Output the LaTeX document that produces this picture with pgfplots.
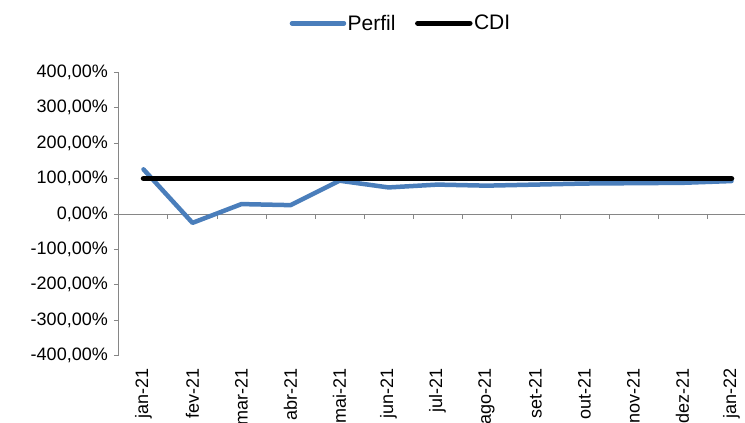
\documentclass[border=0pt]{standalone}
\usepackage{fontspec}
\setmainfont{Liberation Sans}
\usepackage{pgfplots}
\pgfplotsset{compat=1.18}
\definecolor{perfil}{HTML}{4A7EBB}
\definecolor{axisgray}{HTML}{868686}
\begin{document}
\begin{tikzpicture}[font=\fontsize{18bp}{21bp}\selectfont]
\begin{axis}[
  at={(0,0)}, anchor=south west,
  scale only axis, width=637bp, height=283.4bp,
  xmin=-0.5, xmax=12.5, ymin=-400, ymax=400,
  axis x line=bottom, axis y line=left,
  axis line style={-, axisgray, line width=1bp},
  x axis line style={draw=none},
  xtick={0,...,12},
  xticklabels={jan-21,fev-21,mar-21,abr-21,mai-21,jun-21,jul-21,ago-21,set-21,out-21,nov-21,dez-21,jan-22},
  xtick style={draw=none},
  xticklabel style={rotate=90, anchor=east, inner xsep=8bp, inner ysep=0bp},
  ytick={-400,-300,...,400},
  yticklabels={{-400,00\%},{-300,00\%},{-200,00\%},{-100,00\%},{0,00\%},{100,00\%},{200,00\%},{300,00\%},{400,00\%}},
  ytick style={axisgray, line width=1bp},
  yticklabel style={inner xsep=0bp, xshift=-6bp},
  tick align=outside, major tick length=5bp,
  clip=false,
  legend columns=2,
  legend style={draw=none, fill=none, at={(0.2677,1.173)}, anchor=west,
    inner sep=0pt, font=\fontsize{21bp}{24bp}\selectfont,
    nodes={inner sep=1.5bp},
    /tikz/every even column/.append style={column sep=18bp}},
  legend image code/.code={\draw[#1, line cap=round] (0bp,0bp) -- (52bp,0bp);},
]
\draw[axisgray, line width=1bp] (axis cs:-0.5,0) -- (axis cs:12.5,0);
\pgfplotsinvokeforeach{0.5,1.5,...,11.5}{\draw[axisgray, line width=1bp] (axis cs:#1,0) -- ([yshift=-5bp]axis cs:#1,0);}
\addplot[perfil, line width=4.5bp, line join=round, line cap=round] coordinates {
  (0,126) (1,-25) (2,28) (3,25) (4,94) (5,75) (6,83) (7,80) (8,83) (9,86) (10,87) (11,88) (12,93)};
\addlegendentry{Perfil}
\addplot[black, line width=5.5bp, line cap=round] coordinates {
  (0,100) (1,100) (2,100) (3,100) (4,100) (5,100) (6,100) (7,100) (8,100) (9,100) (10,100) (11,100) (12,100)};
\addlegendentry{CDI}
\end{axis}
\pgfresetboundingbox
\useasboundingbox (-119bp,-67.3bp) rectangle (626bp,355.7bp);
\end{tikzpicture}
\end{document}
